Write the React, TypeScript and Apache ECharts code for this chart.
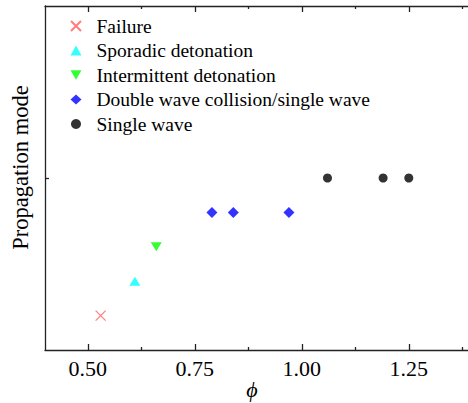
import React, { useEffect, useRef } from "react";
import * as echarts from "echarts";

const seriesNames = [
  "Failure",
  "Sporadic detonation",
  "Intermittent detonation",
  "Double wave collision/single wave",
  "Single wave",
];
const failurePhi = [0.53];
const sporadicPhi = [0.61];
const intermittentPhi = [0.66];
const doubleWavePhi = [0.79, 0.84, 0.97];
const singleWavePhi = [1.06, 1.19, 1.25];
const modeLevels = [1, 2, 3, 4, 5];
const xMajorTicks = [0.5, 0.75, 1.0, 1.25];
const xMinorTicks = [0.625, 0.875, 1.125, 1.375];
const yTicks = [5];

const colors = ["#ff5c5c", "#00ffff", "#00ff00", "#0000ff", "#000000"];
const symbols = [
  "path://M0,0L10,10M10,0L0,10",
  "triangle",
  "path://M0,0L10,0L5,8.66Z",
  "diamond",
  "circle",
];
const sizes = [[10, 10], [11, 9], [11, 9], [11, 11], [9, 9]];

const FONT = "Liberation Serif";

export default function App() {
  const ref = useRef<HTMLDivElement>(null);
  useEffect(() => {
    if (!ref.current) return;
    const chart = echarts.init(ref.current, undefined, { renderer: "svg" });
    const allPhi = [failurePhi, sporadicPhi, intermittentPhi, doubleWavePhi, singleWavePhi];
    const axisLine = { lineStyle: { color: "#222", width: 1.3 } };
    const baseX = { type: "value", min: 0.4, max: 1.4, splitLine: { show: false } };
    const series = seriesNames.map((name, i) => ({
      name,
      type: "scatter",
      xAxisIndex: 0,
      yAxisIndex: 0,
      symbol: symbols[i],
      symbolSize: sizes[i],
      itemStyle:
        i === 0
          ? { color: "transparent", borderColor: colors[i], borderWidth: 1.2 }
          : { color: colors[i] },
      data: allPhi[i].map((x) => [x, modeLevels[i]]),
    }));
    chart.setOption({
      animation: false,
      backgroundColor: "#ffffff",
      textStyle: { fontFamily: FONT },
      grid: { left: 45, top: 6, right: -5, bottom: 53, outerBoundsMode: "none", containLabel: false },
      legend: {
        orient: "vertical",
        left: 65,
        top: 11,
        itemWidth: 11,
        itemHeight: 10,
        itemGap: 4.5,
        textStyle: {
          fontSize: 19.5,
          lineHeight: 20,
          color: "#000",
          fontFamily: FONT,
          padding: [0, 0, 0, 10],
        },
        data: seriesNames,
      },
      xAxis: [
        {
          ...baseX,
          position: "bottom",
          axisLine,
          axisTick: { inside: true, length: 6, customValues: xMajorTicks, lineStyle: { color: "#222", width: 1.3 } },
          axisLabel: {
            customValues: xMajorTicks,
            formatter: (v: number) => v.toFixed(2),
            fontSize: 22,
            color: "#000",
            margin: 7,
            fontFamily: FONT,
          },
          name: "ϕ",
          nameLocation: "middle",
          nameGap: 28,
          nameMoveOverlap: false,
          nameTextStyle: {
            fontSize: 22,
            fontStyle: "italic",
            color: "#000",
            fontFamily: FONT,
            padding: [0, 14, 0, 0],
          },
        },
        {
          ...baseX,
          position: "bottom",
          axisLine: { show: false },
          axisTick: { inside: true, length: 3, customValues: xMinorTicks, lineStyle: { color: "#222", width: 1.3 } },
          axisLabel: { show: false },
        },
        {
          ...baseX,
          position: "top",
          axisLine,
          axisTick: { inside: true, length: 6, customValues: xMajorTicks, lineStyle: { color: "#222", width: 1.3 } },
          axisLabel: { show: false },
        },
        {
          ...baseX,
          position: "top",
          axisLine: { show: false },
          axisTick: { inside: true, length: 3, customValues: xMinorTicks, lineStyle: { color: "#222", width: 1.3 } },
          axisLabel: { show: false },
        },
      ],
      yAxis: [
        {
          type: "value",
          min: 0,
          max: 10,
          position: "left",
          splitLine: { show: false },
          axisLine,
          axisTick: { inside: true, length: 4, customValues: yTicks, lineStyle: { color: "#222", width: 1.3 } },
          axisLabel: { show: false },
          name: "Propagation mode",
          nameLocation: "middle",
          nameGap: 13,
          nameMoveOverlap: false,
          nameTextStyle: { fontSize: 22.5, color: "#000", fontFamily: FONT, padding: [0, 0, 0, 21] },
        },
      ],
      series,
    });
    return () => chart.dispose();
  }, []);
  return <div ref={ref} style={{ width: 468, height: 403, position: "absolute", left: 0, top: 0 }} />;
}
